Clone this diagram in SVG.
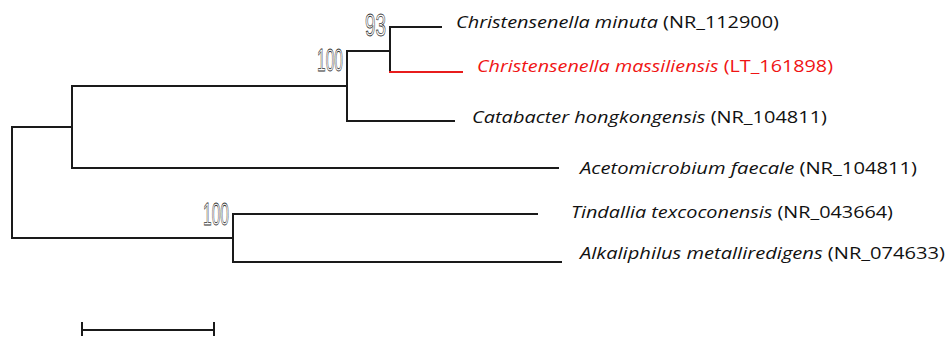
<svg xmlns="http://www.w3.org/2000/svg" width="947" height="338" viewBox="0 0 947 338">
<style>
.br{stroke:#1a1a1a;stroke-width:2;fill:none;stroke-linecap:square}
.red{stroke:#e81c1c}
.lab{font-family:"Open Sans","Liberation Sans",sans-serif;font-size:17px;fill:#111}
.lab tspan.i{font-style:italic}
.redt{fill:#f01414}
.bs{font-family:"Liberation Sans","DejaVu Sans",sans-serif;font-size:31px;fill:none;stroke:#333;stroke-width:0.8}
</style>
<rect width="947" height="338" fill="#fff"/>
<g id="connectors">
<path class="br" d="M12,127 V238 M12,127 H72 M12,238 H233"/>
<path class="br" d="M72,86 V168 M72,86 H347 M72,168 H558"/>
<path class="br" d="M347,51 V121 M347,51 H390 M347,121 H454"/>
<path class="br" d="M390,27 V72 M390,27 H441"/>
<path class="br red" d="M390,72 H462"/>
<path class="br" d="M233,214 V262 M233,214 H537 M233,262 H561"/>
</g>
<g id="bootstrap">
<text class="bs" x="365" y="36" textLength="21" lengthAdjust="spacingAndGlyphs">93</text>
<text class="bs" x="317" y="71" textLength="26" lengthAdjust="spacingAndGlyphs">100</text>
<text class="bs" x="203" y="225" textLength="26" lengthAdjust="spacingAndGlyphs">100</text>
</g>
<g id="n-minuta"><text class="lab" x="456" y="28" textLength="323" lengthAdjust="spacingAndGlyphs"><tspan class="i">Christensenella minuta</tspan> (NR_112900)</text></g>
<g id="n-massiliensis"><text class="lab redt" x="477" y="72" textLength="356" lengthAdjust="spacingAndGlyphs"><tspan class="i">Christensenella massiliensis</tspan> (LT_161898)</text></g>
<g id="n-catabacter"><text class="lab" x="472" y="123" textLength="355" lengthAdjust="spacingAndGlyphs"><tspan class="i">Catabacter hongkongensis</tspan> (NR_104811)</text></g>
<g id="n-acetomicrobium"><text class="lab" x="580" y="174" textLength="337" lengthAdjust="spacingAndGlyphs"><tspan class="i">Acetomicrobium faecale</tspan> (NR_104811)</text></g>
<g id="n-tindallia"><text class="lab" x="571" y="218" textLength="322" lengthAdjust="spacingAndGlyphs"><tspan class="i">Tindallia texcoconensis</tspan> (NR_043664)</text></g>
<g id="n-alkaliphilus"><text class="lab" x="580" y="259" textLength="365" lengthAdjust="spacingAndGlyphs"><tspan class="i">Alkaliphilus metalliredigens</tspan> (NR_074633)</text></g>
<g id="scalebar">
<path class="br" d="M82,330 H214 M82,322 V336 M214,322 V336" style="stroke-linecap:butt"/>
</g>
</svg>
